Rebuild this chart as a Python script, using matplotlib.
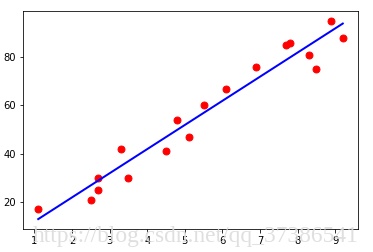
import matplotlib
matplotlib.use("Agg")
import matplotlib.pyplot as plt
import numpy as np

# --- Data ---
hours = [1.1, 2.5, 2.7, 2.7, 3.3, 3.5, 4.5, 4.8, 5.1, 5.5,
         6.1, 6.9, 7.7, 7.8, 8.3, 8.5, 8.9, 9.2]
scores = [17, 21, 25, 30, 42, 30, 41, 54, 47, 60,
          67, 76, 85, 86, 81, 75, 95, 88]

# fitted regression line (coefficient / intercept)
coef = 9.99
intercept = 2.0

x = np.array(hours)
pred = coef * x + intercept

fig = plt.figure(figsize=(373 / 72, 252 / 72), dpi=72)
ax = fig.add_axes([23 / 373, 23 / 252, 335 / 373, 218 / 252])

ax.scatter(hours, scores, color="red", s=48, zorder=2)
ax.plot(x, pred, color="blue", linewidth=2, zorder=3)

# watermark from the source image
fig.text(0.525, 0.06, "https://blog.csdn.net/qq_37386541", ha="center",
         va="center", fontsize=23.5, family="Liberation Serif",
         color="#dcdcdc", alpha=0.9, zorder=10)

plt.savefig("out.png", dpi=72)
